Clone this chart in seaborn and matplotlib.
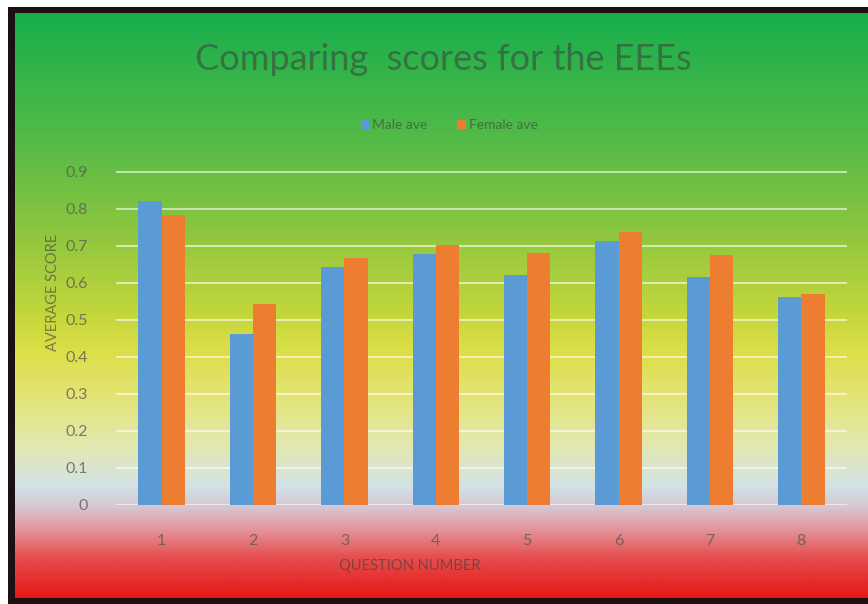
import numpy as np
import pandas as pd
import matplotlib
matplotlib.use("Agg")
import matplotlib.pyplot as plt
import matplotlib.colors as mcolors
import seaborn as sns

# data
questions = ["1", "2", "3", "4", "5", "6", "7", "8"]
male_ave = [0.822, 0.461, 0.644, 0.679, 0.622, 0.714, 0.615, 0.563]
female_ave = [0.784, 0.542, 0.668, 0.703, 0.680, 0.736, 0.674, 0.569]
series = ["Male ave", "Female ave"]
y_ticks = [0, 0.1, 0.2, 0.3, 0.4, 0.5, 0.6, 0.7, 0.8, 0.9]

df = pd.DataFrame({
    "question": questions * 2,
    "score": male_ave + female_ave,
    "series": [series[0]] * len(questions) + [series[1]] * len(questions),
})

sns.set_theme(style="white")
plt.rcParams["font.family"] = ["Lato", "DejaVu Sans"]

W, H = 868, 604
fig = plt.figure(figsize=(W / 100, H / 100), dpi=100, facecolor="white")

# dark frame of the slide
frame = fig.add_axes([8 / W, 0, 1 - 8 / W, 1 - 7 / H])
frame.set_axis_off()
frame.add_patch(plt.Rectangle((0, 0), 1, 1, color="#1c1010", transform=frame.transAxes))

# green -> yellow -> light blue -> red gradient background
stops = [
    (0.00, "#18ae4b"),
    (0.22, "#55bb48"),
    (0.38, "#8fc73e"),
    (0.52, "#c6d73c"),
    (0.58, "#dcdf48"),
    (0.66, "#e4e478"),
    (0.74, "#e3e8b0"),
    (0.81, "#d2e2e6"),
    (0.845, "#d6c6d2"),
    (0.88, "#e39aa2"),
    (0.93, "#e65050"),
    (1.00, "#e61616"),
]
bg_top, bg_bot = 13, 598
pos = np.array([s[0] for s in stops])
cols = np.array([mcolors.to_rgb(s[1]) for s in stops])
t = np.linspace(0, 1, 400)
grad = np.stack([np.interp(t, pos, cols[:, k]) for k in range(3)], axis=1)
grad = np.repeat(grad[:, None, :], 2, axis=1)
bg = fig.add_axes([15 / W, 1 - bg_bot / H, 1 - 15 / W, (bg_bot - bg_top) / H])
bg.imshow(grad, aspect="auto", extent=[0, 1, 0, 1], interpolation="bilinear")
bg.set_axis_off()

# plot area
left, right, top, bottom = 116, 847, 171, 505
ax = fig.add_axes([left / W, 1 - bottom / H, (right - left) / W, (bottom - top) / H])
ax.set_facecolor("none")
sns.barplot(data=df, x="question", y="score", hue="series",
            palette=["#5b9bd5", "#ed7d31"], width=0.51, saturation=1,
            linewidth=0, ax=ax, legend=True)

ax.set_ylim(0, 0.902)
ax.set_yticks(y_ticks)
ax.set_yticklabels(["0"] + [f"{v:.1f}" for v in y_ticks[1:]])
ax.yaxis.grid(True, color="white", linewidth=1.4, alpha=0.6)
ax.set_axisbelow(True)
for s in ax.spines.values():
    s.set_visible(False)
ax.tick_params(axis="both", length=0, colors="#555555", labelsize=11.5)
ax.tick_params(axis="y", pad=20)
ax.tick_params(axis="x", pad=21)
for lab in ax.get_xticklabels() + ax.get_yticklabels():
    lab.set_alpha(0.75)
ax.set_xlabel("")
ax.set_ylabel("")

txt = "#3d3d3d"
fig.text(443 / W, 1 - 60 / H, "Comparing  scores for the EEEs", ha="center", va="center",
         fontsize=26, fontweight="normal", color=txt, alpha=0.55)
fig.text(410 / W, 1 - 566 / H, "QUESTION NUMBER", ha="center", va="center",
         fontsize=10.5, color=txt, alpha=0.6)
fig.text(53 / W, 1 - 292 / H, "AVERAGE SCORE", ha="center", va="center", rotation=90,
         fontsize=10.5, color=txt, alpha=0.6)

handles, labels = ax.get_legend_handles_labels()
ax.get_legend().remove()
for h in handles:
    h.set_edgecolor("none")
leg = fig.legend(handles, labels, loc="center", bbox_to_anchor=(449 / W, 1 - 125 / H),
                 ncol=2, frameon=False, fontsize=10, handlelength=0.6, handleheight=0.6,
                 handletextpad=0.2, columnspacing=2.2)
for tx in leg.get_texts():
    tx.set_color(txt)
    tx.set_alpha(0.6)

fig.savefig("out.png", dpi=100)
